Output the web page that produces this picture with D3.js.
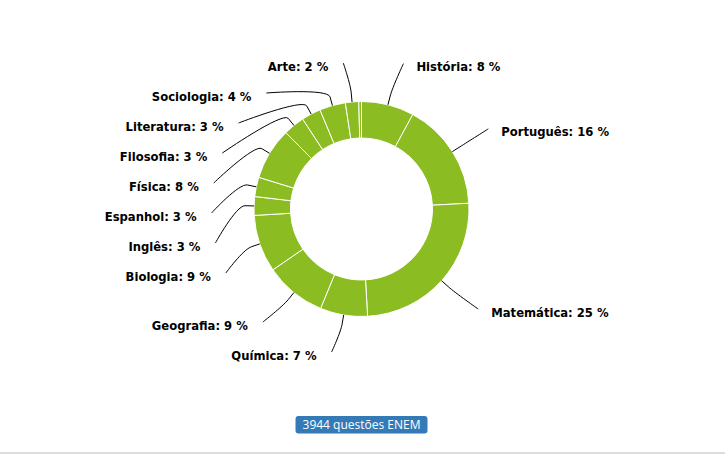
<!DOCTYPE html>
<html>
<head>
<meta charset="utf-8">
<script src="https://cdn.jsdelivr.net/npm/d3@7"></script>
<style>
  html, body { margin: 0; padding: 0; background: #fff; }
  svg { display: block; }
</style>
</head>
<body>
<svg id="chart" width="725" height="455"></svg>
<script>
// ---- data ----
const categories = ["História", "Português", "Matemática", "Química", "Geografia", "Biologia",
                    "Inglês", "Espanhol", "Física", "Filosofia", "Literatura", "Sociologia", "Arte", "Outros"];
const values = [7.9, 16.2, 24.9, 7.1, 9.2, 8.6, 2.8, 2.9, 7.8, 3.2, 2.9, 3.9, 2.0, 0.4];
const totalQuestions = 3944;
const badgeText = totalQuestions + " questões ENEM";

// ---- layout ----
const W = 725, H = 455;
const cx = 361.5, cy = 209;
const rOuter = 107.5, rInner = 71;
const labelDistance = 42.5;
const connectorOffset = 9;
const labelSpacing = 30;
const color = "#8bbc21";

const svg = d3.select("#chart");

const total = d3.sum(values);
const data = categories.map((c, i) => ({ name: c, value: values[i], pct: Math.round(values[i] / total * 100) }));

const pie = d3.pie().value(d => d.value).sort(null);
const arcs = pie(data);
const arcGen = d3.arc().innerRadius(rInner).outerRadius(rOuter);

const g = svg.append("g").attr("transform", `translate(${cx},${cy})`);
g.selectAll("path.slice").data(arcs).join("path")
  .attr("class", "slice")
  .attr("d", arcGen)
  .attr("fill", color)
  .attr("stroke", "#fff")
  .attr("stroke-width", 1)
  .attr("stroke-linejoin", "round");

// ---- labels ----
const R = rOuter + labelDistance;
const labels = arcs.filter(a => a.data.pct >= 1).map(a => {
  const mid = (a.startAngle + a.endAngle) / 2;
  return {
    a, mid,
    left: mid > Math.PI,
    nx: cx + R * Math.sin(mid),
    ny: cy - R * Math.cos(mid),
    ex: cx + rOuter * Math.sin(mid),
    ey: cy - rOuter * Math.cos(mid),
    bx: cx + (rOuter + connectorOffset) * Math.sin(mid),
    by: cy - (rOuter + connectorOffset) * Math.cos(mid)
  };
});

const yTop = cy - R + 4, yBottom = cy + R - 7;
[true, false].forEach(side => {
  const s = labels.filter(l => l.left === side).sort((p, q) => p.ny - q.ny);
  let prev = -Infinity;
  s.forEach(l => { l.y = Math.max(l.ny, prev + labelSpacing, yTop); prev = l.y; });
  let next = Infinity;
  for (let i = s.length - 1; i >= 0; i--) {
    s[i].y = Math.min(s[i].y, next - labelSpacing, yBottom); next = s[i].y;
  }
  s.forEach((l, i) => {
    const sign = side ? -1 : 1;
    if (i === 0 || i === s.length - 1) {
      l.x = l.nx + sign * 5;
    } else {
      const dy = Math.max(-R, Math.min(R, l.y - cy));
      l.x = cx + sign * Math.sqrt(R * R - dy * dy);
    }
  });
});

svg.append("g").selectAll("path.conn").data(labels).join("path")
  .attr("class", "conn")
  .attr("fill", "none")
  .attr("stroke", "#000")
  .attr("stroke-width", 1)
  .attr("d", l => `M${l.x},${l.y}C${l.x},${l.y} ${2 * l.bx - l.ex},${2 * l.by - l.ey} ${l.bx},${l.by}L${l.ex},${l.ey}`);

svg.append("g").selectAll("text.lbl").data(labels).join("text")
  .attr("class", "lbl")
  .attr("x", l => l.left ? l.x - 15 : l.x + 13)
  .attr("y", l => l.y + 3.5)
  .attr("dy", "0.35em")
  .attr("text-anchor", l => l.left ? "end" : "start")
  .style("font-family", "'DejaVu Sans', Verdana, sans-serif")
  .style("font-size", "11.6px")
  .style("font-weight", "bold")
  .style("fill", "#000")
  .text(l => `${l.a.data.name}: ${l.a.data.pct} %`);

// ---- badge ----
const badge = svg.append("g");
const bt = badge.append("text")
  .attr("x", cx)
  .attr("y", 424.8)
  .attr("dy", "0.35em")
  .attr("text-anchor", "middle")
  .style("font-family", "'Open Sans', sans-serif")
  .style("font-size", "12px")
  .style("fill", "#fff")
  .text(badgeText);
const bw = bt.node().getComputedTextLength() + 14;
badge.insert("rect", "text")
  .attr("x", cx - bw / 2)
  .attr("y", 416)
  .attr("width", bw)
  .attr("height", 17.5)
  .attr("rx", 3)
  .attr("fill", "#337ab7");

// bottom border
svg.append("rect").attr("x", 0).attr("y", 452).attr("width", W).attr("height", 2).attr("fill", "#dddddd");
</script>
</body>
</html>
